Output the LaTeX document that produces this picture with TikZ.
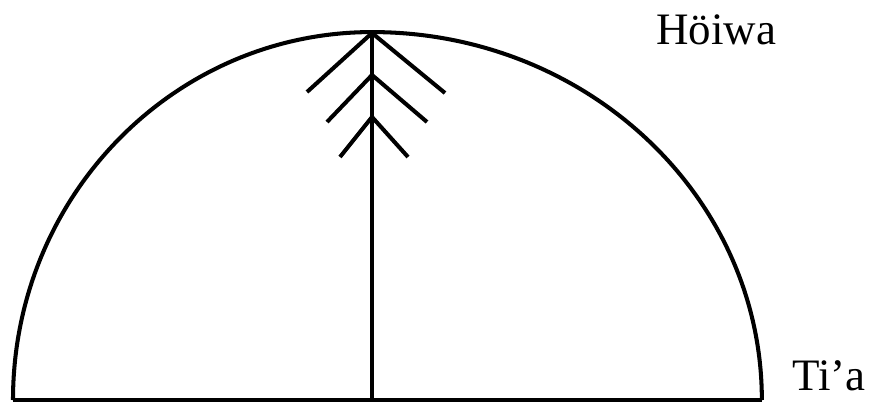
\documentclass[tikz,border=0pt]{standalone}
\usepackage{fontspec}
\setmainfont{Liberation Serif}
\usetikzlibrary{positioning}

\begin{document}
\begin{tikzpicture}[x=0.02cm,y=-0.02cm,
      trazo/.style={draw=black,line width=2.3pt},
      rama/.style={trazo,line cap=butt},
      rotulo/.style={font=\fontsize{25.6}{30}\selectfont,inner sep=0pt,anchor=base west}]
    \useasboundingbox (0,0) rectangle (874,402);
    \coordinate (cima) at (372,32);
    \coordinate (base) at (372,400);
    \coordinate (izq) at (13,400);
    \coordinate (der) at (762,400);
    % cupula y suelo
    \draw[trazo] (izq) arc[start angle=180,end angle=90,x radius=7.18cm,y radius=7.36cm]
                 arc[start angle=90,end angle=0,x radius=7.8cm,y radius=7.36cm];
    \draw[trazo] (izq) -- (der);
    \draw[trazo] (cima) -- (base);
    % ramas
    \foreach \n/\y/\l/\ly/\r/\ry in {a/33/307/92/445/93,b/75/327/122/427/122,c/117/340/157/408/157}{
      \coordinate (v\n) at (372,\y);
      \draw[rama] (\l,\ly) -- (v\n) -- (\r,\ry);
    }
    \node[rotulo] (hoiwa) at (656,45) {Höiwa};
    \node[rotulo] (tia) at (792,390) {Ti’a};
  \end{tikzpicture}
\end{document}
